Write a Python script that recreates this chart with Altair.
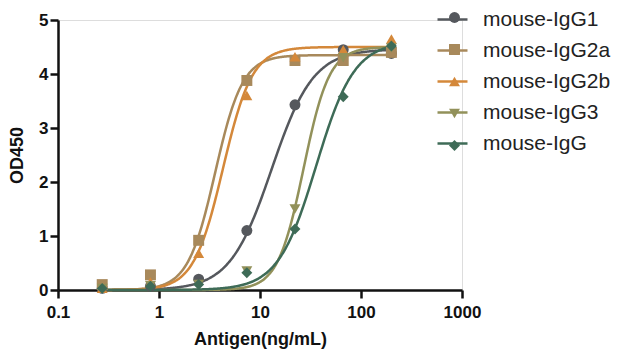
import altair as alt
import pandas as pd

# ---- data ----
series = ["mouse-IgG1", "mouse-IgG2a", "mouse-IgG2b", "mouse-IgG3", "mouse-IgG"]
conc = [0.274, 0.823, 2.47, 7.41, 22.2, 66.7, 200]

od_igg1 = [0.03, 0.07, 0.20, 1.10, 3.43, 4.45, 4.38]
od_igg2a = [0.10, 0.28, 0.92, 3.88, 4.25, 4.25, 4.40]
od_igg2b = [0.03, 0.15, 0.68, 3.60, 4.32, 4.45, 4.65]
od_igg3 = [0.03, 0.08, 0.10, 0.35, 1.50, 4.30, 4.48]
od_igg = [0.03, 0.07, 0.10, 0.32, 1.13, 3.58, 4.52]

# four-parameter logistic fit estimates (bottom, top, EC50, Hill slope)
fit_bottom = [0.0, 0.0, 0.0, 0.0, 0.0]
fit_top = [4.46, 4.35, 4.50, 4.50, 4.60]
fit_ec50 = [13.0, 3.6, 4.3, 27.0, 36.0]
fit_hill = [2.1, 3.2, 3.0, 3.4, 2.3]

colors = ["#55585d", "#a8895b", "#d4883a", "#92915a", "#3e6b57"]
shapes = ["circle", "square", "triangle-up", "triangle-down", "diamond"]

rows = []
for s, vals in zip(series, [od_igg1, od_igg2a, od_igg2b, od_igg3, od_igg]):
    for c, v in zip(conc, vals):
        rows.append({"series": s, "conc": c, "od": v})
points_df = pd.DataFrame(rows)

fit_df = pd.DataFrame({
    "series": series,
    "bottom": fit_bottom,
    "top": fit_top,
    "ec50": fit_ec50,
    "hill": fit_hill,
})

FONT = "Liberation Sans"

color_scale = alt.Scale(domain=series, range=colors)
shape_scale = alt.Scale(domain=series, range=shapes)

x_scale = alt.Scale(type="log", domain=[0.1, 1000], nice=False)
y_scale = alt.Scale(domain=[0, 5], nice=False)

x_axis = alt.Axis(
    title="Antigen(ng/mL)", values=[0.1, 1, 10, 100, 1000], format="~g",
    grid=False, tickSize=8, tickWidth=2.5, domainWidth=2.5,
    domainColor="#111111", tickColor="#111111", labelPadding=6,
    labelFontSize=17, labelFont=FONT, labelFontWeight="bold", labelColor="#111111",
    titleFontSize=18, titleFont=FONT, titleFontWeight="bold", titleColor="#111111",
    titlePadding=10, labelFlush=False,
)
y_axis = alt.Axis(
    title="OD450", values=[0, 1, 2, 3, 4, 5], format="d",
    grid=False, tickSize=8, tickWidth=2.5, domainWidth=2.5,
    domainColor="#111111", tickColor="#111111", labelPadding=2,
    labelFontSize=17, labelFont=FONT, labelFontWeight="bold", labelColor="#111111",
    titleFontSize=18, titleFont=FONT, titleFontWeight="bold", titleColor="#111111",
    titlePadding=12,
)

line_legend = alt.Legend(
    title=None, orient="none", legendX=378, legendY=-17,
    symbolType="stroke", symbolSize=900, symbolStrokeWidth=2.5,
    labelFontSize=21, labelFont=FONT, labelColor="#222222",
    labelOffset=14, rowPadding=4, padding=0,
)
point_legend = alt.Legend(
    title=None, orient="none", legendX=386, legendY=-13,
    symbolSize=120, symbolStrokeWidth=0, symbolOpacity=1,
    labelExpr="' '", labelFontSize=21, labelFont=FONT,
    labelOffset=0, rowPadding=10, padding=0,
)

curves = alt.Chart(fit_df).transform_calculate(
    lx="sequence(-0.57, 2.305, 0.01)"
).transform_flatten(["lx"]).transform_calculate(
    x="pow(10, datum.lx)",
    y="datum.bottom + (datum.top - datum.bottom) / (1 + pow(datum.ec50 / pow(10, datum.lx), datum.hill))",
).mark_line(strokeWidth=2.5, interpolate="monotone").encode(
    x=alt.X("x:Q", scale=x_scale, axis=x_axis),
    y=alt.Y("y:Q", scale=y_scale, axis=y_axis),
    color=alt.Color("series:N", scale=color_scale, legend=line_legend, sort=series),
    detail="series:N",
)

pts = alt.Chart(points_df).mark_point(filled=True, opacity=1, size=120).encode(
    x=alt.X("conc:Q", scale=x_scale, axis=x_axis),
    y=alt.Y("od:Q", scale=y_scale, axis=y_axis),
    color=alt.Color("series:N", scale=color_scale, legend=point_legend, sort=series),
    shape=alt.Shape("series:N", scale=shape_scale, legend=point_legend, sort=series),
)

chart = alt.layer(curves, pts).resolve_legend(
    color="independent", shape="independent"
).properties(
    width=404, height=270,
    autosize=alt.AutoSizeParams(type="none"),
    padding={"left": 50, "top": 12, "right": 155, "bottom": 62},
).configure_view(stroke=None).configure(background="white")

chart.save("out.html", embed_options={"renderer": "svg", "actions": False})
